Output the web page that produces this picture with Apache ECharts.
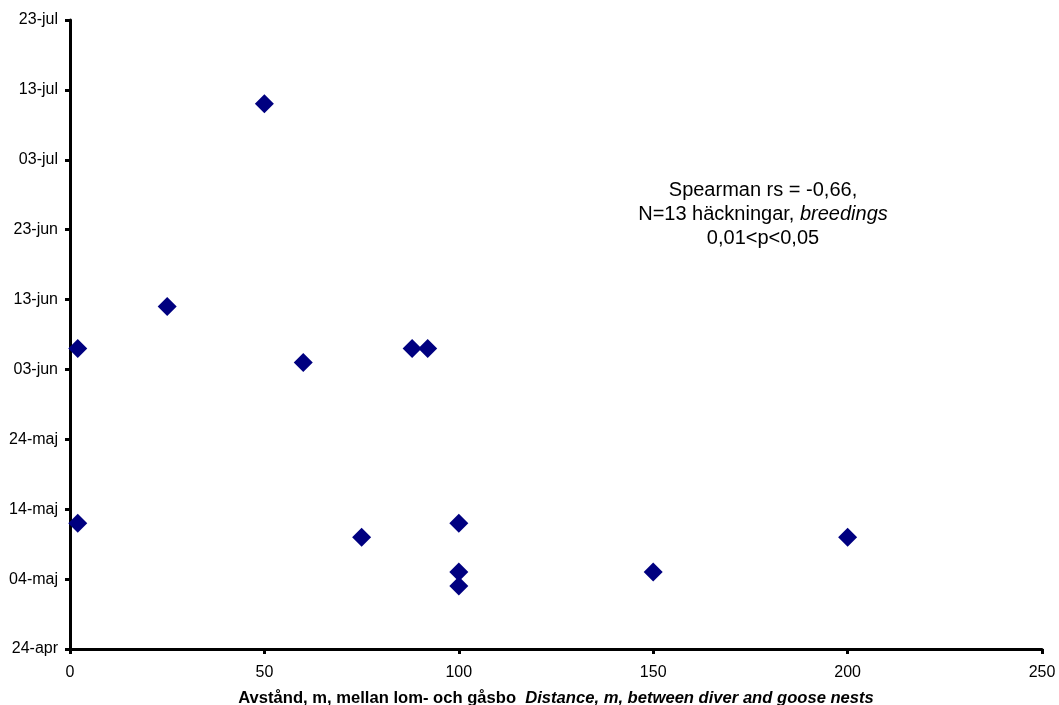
<!DOCTYPE html>
<html>
<head>
<meta charset="utf-8">
<script src="https://cdn.jsdelivr.net/npm/echarts@6/dist/echarts.min.js"></script>
<style>html,body{margin:0;padding:0;background:#fff}#c{width:1059px;height:705px}</style>
</head>
<body>
<div id="c"></div>
<script>
// Distance between diver and goose nests (m)
const distances = [50, 25, 2, 88, 92, 60, 2, 75, 100, 100, 100, 150, 200];
// Dates (month-day)
const dates = ['07-11', '06-12', '06-06', '06-06', '06-06', '06-04', '05-12', '05-10', '05-12', '05-05', '05-03', '05-05', '05-10'];
// Y tick labels, every 10 days from 24-apr
const yTickLabels = ['24-apr', '04-maj', '14-maj', '24-maj', '03-jun', '13-jun', '23-jun', '03-jul', '13-jul', '23-jul'];
const annotationLines = ['Spearman rs = -0,66,', 'N=13 häckningar, ', 'breedings', '0,01<p<0,05'];

const origin = Date.UTC(2000, 3, 24);
function dayOffset(md) {
  const [m, d] = md.split('-').map(Number);
  return Math.round((Date.UTC(2000, m - 1, d) - origin) / 86400000);
}
const points = distances.map((x, i) => [x, dayOffset(dates[i])]);

const chart = echarts.init(document.getElementById('c'));
const font = 'Liberation Sans, Arial, sans-serif';
chart.setOption({
  animation: false,
  grid: { left: 70, right: 17, top: 20, bottom: 56, containLabel: false, outerBoundsMode: 'none' },
  xAxis: {
    type: 'value', min: 0, max: 250, interval: 50,
    axisLine: { show: true, lineStyle: { color: '#000', width: 3 } },
    axisTick: { show: true, inside: false, length: 5, lineStyle: { color: '#000', width: 3 } },
    axisLabel: { color: '#000', fontSize: 16, fontFamily: font, margin: 16 },
    splitLine: { show: false },
    name: '{a|Avstånd, m, mellan lom- och gåsbo  }{b|Distance, m, between diver and goose nests}',
    nameLocation: 'middle', nameGap: 41,
    nameTextStyle: {
      rich: {
        a: { fontWeight: 'bold', fontSize: 16.6, fontFamily: font, color: '#000' },
        b: { fontWeight: 'bold', fontStyle: 'italic', fontSize: 16.6, fontFamily: font, color: '#000' }
      }
    }
  },
  yAxis: {
    type: 'value', min: 0, max: 90, interval: 10,
    axisLine: { show: true, lineStyle: { color: '#000', width: 3 } },
    axisTick: { show: true, inside: false, length: 5, lineStyle: { color: '#000', width: 3 } },
    axisLabel: {
      color: '#000', fontSize: 16, fontFamily: font, margin: 12,
      formatter: v => yTickLabels[Math.round(v / 10)] || ''
    },
    splitLine: { show: false }
  },
  graphic: [
    { type: 'text', x: 763, y: 190, style: { text: annotationLines[0], align: 'center', verticalAlign: 'middle', fontSize: 20, fontFamily: font, fill: '#000' } },
    { type: 'text', x: 763, y: 214, style: {
        text: '{n|' + annotationLines[1] + '}{i|' + annotationLines[2] + '}',
        align: 'center', verticalAlign: 'middle', fontSize: 20, fontFamily: font, fill: '#000',
        rich: {
          n: { fontSize: 20, fontFamily: font, fill: '#000' },
          i: { fontSize: 20, fontFamily: font, fontStyle: 'italic', fill: '#000' }
        }
      } },
    { type: 'text', x: 763, y: 238, style: { text: annotationLines[3], align: 'center', verticalAlign: 'middle', fontSize: 20, fontFamily: font, fill: '#000' } }
  ],
  series: [{
    type: 'scatter',
    data: points,
    symbol: 'diamond',
    symbolSize: 19,
    itemStyle: { color: '#000080', opacity: 1 }
  }]
});
</script>
</body>
</html>
